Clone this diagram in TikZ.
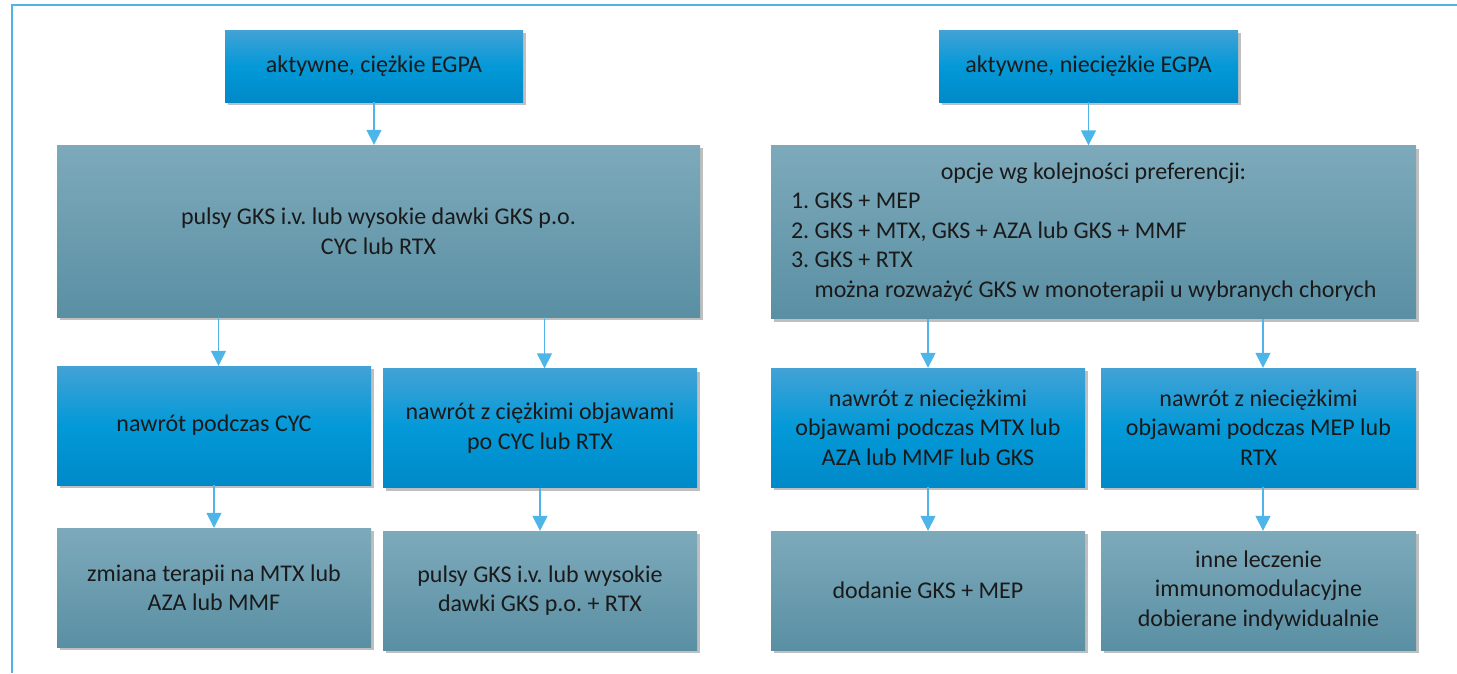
\documentclass[tikz,border=0pt]{standalone}
\usepackage{fontspec}
\setmainfont{Carlito}
\usetikzlibrary{arrows.meta,shadows}
\definecolor{frameblue}{HTML}{4DB5E8}
\definecolor{blueA}{HTML}{42A2D5}
\definecolor{blueB}{HTML}{0399D8}
\definecolor{blueC}{HTML}{0089C8}
\definecolor{grayA}{HTML}{7DAABB}
\definecolor{grayB}{HTML}{5A8FA3}
\definecolor{inktext}{HTML}{1A1A1A}
\frenchspacing
\begin{document}
\begin{tikzpicture}[
            x=1pt,
            y=-1pt,
            box/.style={rectangle, inner sep=0pt, align=center, text=inktext,
                font=\fontsize{24}{29.5}\selectfont, minimum width=314pt, minimum height=119pt,
                drop shadow={shadow xshift=3pt, shadow yshift=-3pt, opacity=0.25, fill=black}},
            bluebox/.style={box, top color=blueA, bottom color=blueC, middle color=blueB},
            graybox/.style={box, top color=grayA, bottom color=grayB},
            link/.style={draw=frameblue, line width=1.6pt, -{Triangle[width=15pt, length=15pt]}},
            frame/.style={draw=frameblue, line width=2pt}
        ]
        \useasboundingbox (0,0) rectangle (1457,673);
        \draw[frame] (12,673) -- (12,5) -- (1457,5);
        \node[bluebox, minimum width=298pt, minimum height=72pt] (sev) at (374,66) {aktywne, ciężkie EGPA};
        \node[graybox, minimum width=643pt, minimum height=172pt] (sevtreat) at (378.5,231) {pulsy GKS i.v. lub wysokie dawki GKS p.o.\\CYC lub RTX};
        \node[bluebox] (relcyc) at (214,425.5) {nawrót podczas CYC};
        \node[bluebox] (relsev) at (540,428) {nawrót z ciężkimi objawami\\po CYC lub RTX};
        \node[graybox] (switch) at (214,587.5) {zmiana terapii na MTX lub\\AZA lub MMF};
        \node[graybox] (pulse) at (540,590.5) {pulsy GKS i.v. lub wysokie\\dawki GKS p.o. + RTX};
        \node[bluebox, minimum width=299pt, minimum height=72pt] (nonsev) at (1088.5,66) {aktywne, nieciężkie EGPA};
        \node[graybox, minimum width=645pt, minimum height=173pt, text width=605pt, align=flush left] (opts) at (1093.5,232) {\makebox[\linewidth]{opcje wg kolejności preferencji:}\\1. GKS + MEP\\2. GKS + MTX, GKS + AZA lub GKS + MMF\\3. GKS + RTX\\\phantom{3.}\ można rozważyć GKS w monoterapii u wybranych chorych};
        \node[bluebox] (relmtx) at (928,427.5) {nawrót z nieciężkimi\\objawami podczas MTX lub\\AZA lub MMF lub GKS};
        \node[bluebox, minimum width=315pt] (relmep) at (1258.5,427.5) {nawrót z nieciężkimi\\objawami podczas MEP lub\\RTX};
        \node[graybox] (addmep) at (928,590.5) {dodanie GKS + MEP};
        \node[graybox, minimum width=315pt] (other) at (1258.5,590.5) {inne leczenie\\immunomodulacyjne\\dobierane indywidualnie};
        \foreach \s/\t in {sev/sevtreat, nonsev/opts} {
            \draw[link] (\s) -- (\s |- \t.north);
        }
        \foreach \s/\t in {relcyc/switch, relsev/pulse, opts/relmtx, relmtx/addmep} {
            \draw[link] (\s.south -| \t) -- (\t.north);
        }
        \foreach \s/\t in {sevtreat/relcyc, sevtreat/relsev, opts/relmep, relmep/other} {
            \coordinate (tip) at ([xshift=4.5pt]\t.north);
            \draw[link] (\s.south -| tip) -- (tip);
        }
    \end{tikzpicture}
\end{document}
